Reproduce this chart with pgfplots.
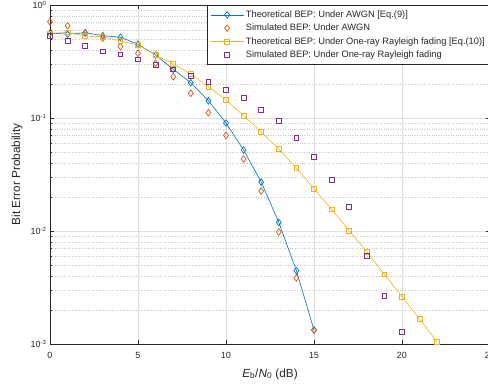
\documentclass[border=0pt]{standalone}
\usepackage{fontspec}
\setmainfont{Liberation Sans}
\usepackage{pgfplots}
\pgfplotsset{compat=1.18}
\definecolor{mblue}{rgb}{0,0.447,0.741}
\definecolor{morange}{rgb}{0.851,0.325,0.098}
\definecolor{myellow}{rgb}{0.929,0.694,0.125}
\definecolor{mpurple}{rgb}{0.494,0.184,0.556}
\definecolor{maxis}{rgb}{0.15,0.15,0.15}
\definecolor{mgrid}{RGB}{223,223,223}
\definecolor{mminor}{RGB}{200,200,200}
\begin{document}
\begin{tikzpicture}
\begin{axis}[
  scale only axis, width=440pt, height=339pt,
  xmin=0, xmax=25, ymode=log, ymin=1e-3, ymax=1,
  xtick={0,5,10,15,20,25}, xticklabels={0,5,10,15,20,25},
  ytick={1e-3,1e-2,1e-1,1},
  yticklabels={10\textsuperscript{-3},10\textsuperscript{-2},10\textsuperscript{-1},10\textsuperscript{0}},
  tick align=inside,
  major tick length=4.5pt, minor tick length=2.5pt,
  axis line style={maxis, line width=0.6pt},
  every tick/.style={maxis, line width=0.5pt},
  tick label style={font=\fontsize{9}{10}\selectfont, text=maxis},
  xticklabel style={yshift=-4.5pt},
  grid=both,
  major grid style={mgrid, line width=0.5pt},
  minor grid style={mminor, dotted, line width=0.5pt},
  xlabel={{\itshape E}\textsubscript{b}/{\itshape N}\textsubscript{0} (dB)},
  ylabel={Bit Error Probability},
  xlabel style={at={(axis description cs:0.5,0)}, anchor=center, yshift=-30pt, font=\fontsize{11.8}{13}\selectfont, text=maxis},
  ylabel style={at={(axis description cs:-0.075,0.5)}, anchor=center, font=\fontsize{11.8}{13}\selectfont, text=maxis},
  legend style={at={(1,1)}, anchor=north east, draw=maxis, line width=0.5pt, fill=white,
    font=\fontsize{9.3}{10}\selectfont, text=maxis, row sep=1.1pt, inner ysep=3.5pt, inner xsep=3pt},
  legend cell align=left,
  legend image code/.code={\draw[mark repeat=2,mark phase=2,#1] plot coordinates {(0pt,0pt) (16.5pt,0pt) (33pt,0pt)};},
]
\addplot[mblue, line width=0.6pt, mark=diamond, mark size=3.3pt, mark options={solid, line width=0.7pt}] coordinates {
(0,0.565) (1,0.551) (2,0.569) (3,0.535) (4,0.518) (5,0.449) (6,0.361) (7,0.270)
(8,0.205) (9,0.142) (10,0.0903) (11,0.0521) (12,0.0271) (13,0.0119) (14,0.00445) (15,0.00133)};
\addlegendentry{Theoretical BEP: Under AWGN [Eq.(9)]}
\addplot[only marks, morange, line width=0.7pt, mark=diamond, mark size=3.3pt] coordinates {
(0,0.711) (1,0.656) (2,0.562) (3,0.507) (4,0.428) (5,0.374) (6,0.305) (7,0.232)
(8,0.1655) (9,0.1114) (10,0.0703) (11,0.0434) (12,0.0226) (13,0.0098) (14,0.00384) (15,0.00133)};
\addlegendentry{Simulated BEP: Under AWGN}
\addplot[myellow, line width=0.6pt, mark=square, mark size=2.4pt, mark options={solid, line width=0.7pt}] coordinates {
(0,0.562) (1,0.573) (2,0.532) (3,0.524) (4,0.480) (5,0.443) (6,0.361) (7,0.301)
(8,0.245) (9,0.189) (10,0.144) (11,0.105) (12,0.0752) (13,0.0532) (14,0.0361) (15,0.0237)
(16,0.01556) (17,0.01007) (18,0.00656) (19,0.00414) (20,0.00262) (21,0.00166) (22,0.00104)};
\addlegendentry{Theoretical BEP: Under One-ray Rayleigh fading [Eq.(10)]}
\addplot[only marks, mpurple, line width=0.7pt, mark=square, mark size=2.4pt] coordinates {
(0,0.535) (1,0.483) (2,0.436) (3,0.389) (4,0.366) (5,0.331) (6,0.294) (7,0.270)
(8,0.235) (9,0.2095) (10,0.177) (11,0.150) (12,0.1177) (13,0.0946) (14,0.0669) (15,0.0454)
(16,0.0283) (17,0.0164) (18,0.00604) (19,0.00268) (20,0.00128)};
\addlegendentry{Simulated BEP: Under One-ray Rayleigh fading}
\end{axis}
\pgfresetboundingbox
\path[use as bounding box] ([xshift=-50pt,yshift=-45pt]current axis.south west) rectangle ([xshift=-2pt,yshift=5pt]current axis.north east);
\end{tikzpicture}
\end{document}
